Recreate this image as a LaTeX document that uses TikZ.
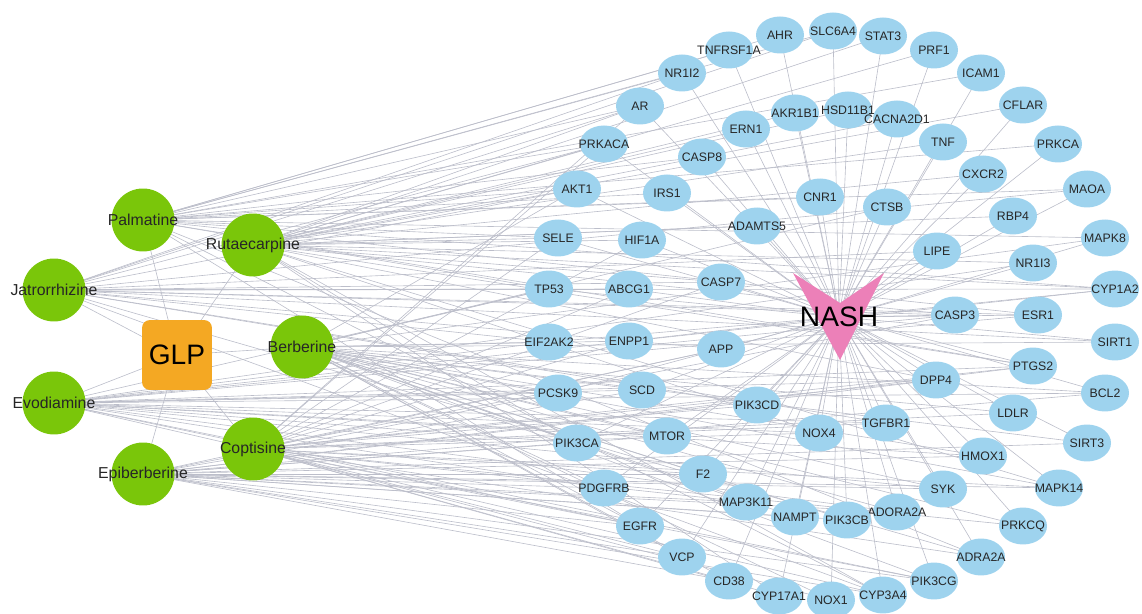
\documentclass[tikz,border=0pt]{standalone}
\usepackage{fontspec}
\setmainfont{Liberation Sans}
\usepackage{tikz}
\usetikzlibrary{shapes.geometric,backgrounds}
\definecolor{tgtblue}{RGB}{158,211,238}
\definecolor{cpdgreen}{RGB}{122,198,10}
\definecolor{herborange}{RGB}{244,168,35}
\definecolor{nashpink}{RGB}{236,128,184}
\definecolor{edgegray}{RGB}{188,190,202}
\def\target(#1,#2)#3{\node[tgt] (#3) at (#1,#2) {\makebox[0pt]{#3}};}
\def\compound(#1,#2)#3{\node[cpd] (#3) at (#1,#2) {\makebox[0pt]{#3}};}

\begin{document}
\begin{tikzpicture}[x=0.02cm, y=-0.02cm,
    tgt/.style={ellipse, fill=tgtblue, minimum width=0.96cm, minimum height=0.74cm, inner sep=0pt, font=\fontsize{7}{8}\selectfont, text=black!85},
    cpd/.style={circle, fill=cpdgreen, minimum size=1.26cm, inner sep=0pt, font=\fontsize{9}{10}\selectfont, text=black!85},
    link/.style={draw=edgegray, line width=0.35pt}]
		%%%%% START %%%%%
		\useasboundingbox (0,0) rectangle (1142,614);
		
		% herb and compounds
		\node[fill=herborange, rounded corners=0.16cm, minimum size=1.4cm, inner sep=0pt, font=\fontsize{16}{18}\selectfont] (GLP) at (177,355) {GLP};
		\compound(143,220){Palmatine}
		\compound(253,245){Rutaecarpine}
		\compound(54,290){Jatrorrhizine}
		\compound(302,347){Berberine}
		\compound(54,403){Evodiamine}
		\compound(253,449){Coptisine}
		\compound(143,474){Epiberberine}
		
		% outer ring
		\target(729,50){TNFRSF1A}
		\target(780,35){AHR}
		\target(833,31){SLC6A4}
		\target(883,36){STAT3}
		\target(934,50){PRF1}
		\target(981,73){ICAM1}
		\target(1023,105){CFLAR}
		\target(1058,144){PRKCA}
		\target(1087,189){MAOA}
		\target(1105,238){MAPK8}
		\target(1115,289){CYP1A2}
		\target(1115,342){SIRT1}
		\target(1105,393){BCL2}
		\target(1087,443){SIRT3}
		\target(1059,488){MAPK14}
		\target(1023,526){PRKCQ}
		\target(981,557){ADRA2A}
		\target(934,581){PIK3CG}
		\target(883,595){CYP3A4}
		\target(831,600){NOX1}
		\target(779,596){CYP17A1}
		\target(729,581){CD38}
		\target(682,557){VCP}
		\target(640,526){EGFR}
		\target(604,488){PDGFRB}
		\target(577,443){PIK3CA}
		\target(558,393){PCSK9}
		\target(549,342){EIF2AK2}
		\target(549,289){TP53}
		\target(558,238){SELE}
		\target(577,189){AKT1}
		\target(604,144){PRKACA}
		\target(640,106){AR}
		\target(682,73){NR1I2}
		
		% middle ring
		\target(746,129){ERN1}
		\target(795,113){AKR1B1}
		\target(848,110){HSD11B1}
		\target(897,119){CACNA2D1}
		\target(943,142){TNF}
		\target(983,174){CXCR2}
		\target(1013,216){RBP4}
		\target(1033,263){NR1I3}
		\target(1038,315){ESR1}
		\target(1033,366){PTGS2}
		\target(1013,413){LDLR}
		\target(983,456){HMOX1}
		\target(943,489){SYK}
		\target(897,512){ADORA2A}
		\target(847,520){PIK3CB}
		\target(795,517){NAMPT}
		\target(746,502){MAP3K11}
		\target(703,474){F2}
		\target(667,436){MTOR}
		\target(642,390){SCD}
		\target(629,341){ENPP1}
		\target(629,289){ABCG1}
		\target(642,240){HIF1A}
		\target(667,193){IRS1}
		\target(702,157){CASP8}
		
		% inner ring
		\target(820,197){CNR1}
		\target(887,207){CTSB}
		\target(937,251){LIPE}
		\target(955,315){CASP3}
		\target(936,380){DPP4}
		\target(886,423){TGFBR1}
		\target(819,433){NOX4}
		\target(757,405){PIK3CD}
		\target(721,349){APP}
		\target(721,282){CASP7}
		\target(757,226){ADAMTS5}
		
		% disease
		\fill[nashpink] (793,273) -- (840,303) -- (884,273) -- (840,360) -- cycle;
		\node[font=\fontsize{16}{18}\selectfont, inner sep=0pt] (NASH) at (839,317) {NASH};
		
		\begin{scope}[on background layer]
		\foreach \c in {Palmatine,Rutaecarpine,Jatrorrhizine,Berberine,Evodiamine,Coptisine,Epiberberine}
			\draw[link] (GLP.center) -- (\c.center);
		\foreach \t in {TNFRSF1A,AHR,SLC6A4,STAT3,PRF1,ICAM1,CFLAR,PRKCA,MAOA,MAPK8,CYP1A2,SIRT1,BCL2,SIRT3,MAPK14,PRKCQ,ADRA2A,PIK3CG,CYP3A4,NOX1,CYP17A1,CD38,VCP,EGFR,PDGFRB,PIK3CA,PCSK9,EIF2AK2,TP53,SELE,AKT1,PRKACA,AR,NR1I2,ERN1,AKR1B1,HSD11B1,CACNA2D1,TNF,CXCR2,RBP4,NR1I3,ESR1,PTGS2,LDLR,HMOX1,SYK,ADORA2A,PIK3CB,NAMPT,MAP3K11,F2,MTOR,SCD,ENPP1,ABCG1,HIF1A,IRS1,CASP8,CNR1,CTSB,LIPE,CASP3,DPP4,TGFBR1,NOX4,PIK3CD,APP,CASP7,ADAMTS5}
			\draw[link] (NASH.center) -- (\t.center);
		\foreach \t in {AR,NR1I2,PRKACA,AKT1,TNFRSF1A,AHR,SLC6A4,CASP8,IRS1,CNR1,ICAM1,PRKCA,MAOA,MAPK8,CYP1A2,SELE,TP53,ESR1,PTGS2,ADRA2A,CYP3A4,EGFR}
			\draw[link] (Palmatine.center) -- (\t.center);
		\foreach \t in {AR,PRKACA,AKT1,SELE,HIF1A,ERN1,AKR1B1,HSD11B1,CACNA2D1,STAT3,PRF1,CFLAR,CXCR2,TNF,RBP4,NR1I3,CYP1A2,CASP3,CASP7,ADAMTS5,PTGS2,DPP4,NOX4,PIK3CA,CYP17A1,CYP3A4,MAPK14}
			\draw[link] (Rutaecarpine.center) -- (\t.center);
		\foreach \t in {AR,NR1I2,PRKACA,TP53,ABCG1,CASP7,APP,CASP3,ESR1,SIRT1,SLC6A4,MAOA,CYP1A2,CYP3A4,LIPE,PIK3CD,TGFBR1,ADRA2A,AKT1,EIF2AK2}
			\draw[link] (Jatrorrhizine.center) -- (\t.center);
		\foreach \t in {PCSK9,SCD,LDLR,SIRT3,HMOX1,SYK,MAPK14,PRKCQ,MTOR,F2,PDGFRB,EGFR,VCP,CD38,NAMPT,MAP3K11,NOX1,PIK3CB,PIK3CG,ADORA2A,ENPP1,EIF2AK2,PIK3CA,BCL2,SIRT1,AKT1,TP53,CTSB,MAPK8}
			\draw[link] (Berberine.center) -- (\t.center);
		\foreach \t in {EIF2AK2,TP53,PCSK9,PIK3CA,PDGFRB,EGFR,SCD,MTOR,NOX4,DPP4,PTGS2,BCL2,CASP3,ESR1,TGFBR1,HMOX1,SYK,PIK3CG,CYP1A2,CYP3A4,ADORA2A,NR1I3}
			\draw[link] (Evodiamine.center) -- (\t.center);
		\foreach \t in {AR,PRKACA,SELE,HIF1A,ABCG1,ENPP1,CASP7,APP,PIK3CD,NOX4,TGFBR1,DPP4,CASP3,PTGS2,LDLR,MAPK14,PRKCQ,ADRA2A,PIK3CG,NOX1,CYP17A1,CD38,VCP,EGFR,MAP3K11,F2}
			\draw[link] (Coptisine.center) -- (\t.center);
		\foreach \t in {PCSK9,PIK3CA,PDGFRB,EGFR,VCP,CD38,MTOR,F2,NAMPT,PIK3CB,ADORA2A,SYK,HMOX1,MAPK14,SIRT3,BCL2,PTGS2,DPP4,CYP3A4,PIK3CG,MAP3K11,SCD,APP}
			\draw[link] (Epiberberine.center) -- (\t.center);
		\end{scope}
		
		%%%%% END %%%%%
\end{tikzpicture}
\end{document}
